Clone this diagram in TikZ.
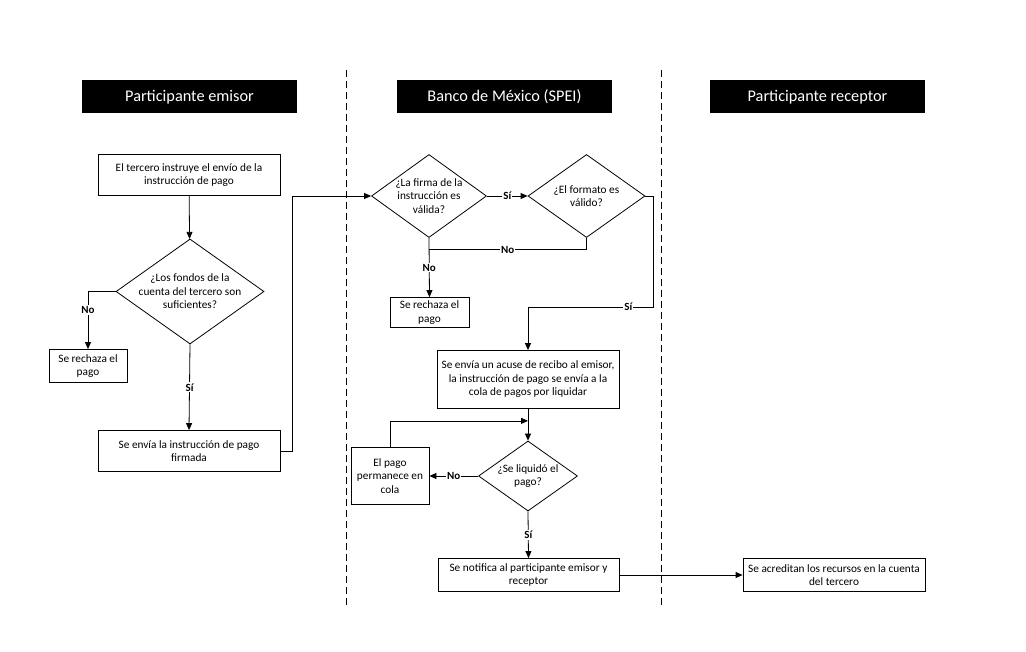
\documentclass[tikz,border=0pt]{standalone}
\usepackage{fontspec}
\setmainfont{Carlito}
\usetikzlibrary{shapes.geometric,arrows.meta}

\begin{document}
\begin{tikzpicture}[x=1pt,y=-1pt,
        txt/.style={font=\fontsize{11.3}{13.5}\selectfont, align=center},
        box/.style={txt, draw, line width=0.8pt, inner sep=0pt},
        decision/.style={txt, draw, diamond, line width=0.8pt, inner sep=0pt},
        lane/.style={fill=black, text=white, minimum width=215pt, minimum height=33pt,
                     text height=12.5pt, text depth=2pt, font=\fontsize{16.3}{18}\selectfont},
        arr/.style={line width=0.8pt, -{Triangle[length=7pt,width=6pt]}},
        link/.style={line width=0.8pt},
        lbl/.style={font=\fontsize{11}{12}\selectfont\bfseries, fill=white, inner sep=1pt},
        sep/.style={line width=0.7pt, dash pattern=on 7pt off 4pt}]
        \useasboundingbox (0,0) rectangle (1026,652);

        % swim lanes
        \node[lane] (hemisor)   at (189.5,96.5) {Participante emisor};
        \node[lane] (hbanxico)  at (504.5,96.5) {Banco de México (SPEI)};
        \node[lane] (hreceptor) at (817.5,96.5) {Participante receptor};

        \draw[sep] (346,70) -- (346,608);
        \draw[sep] (661,70) -- (661,608);

        % participante emisor
        \node[box, minimum width=182pt, minimum height=41pt] (instruye) at (189,175)
            {El tercero instruye el envío de la\\instrucción de pago};
        \node[decision, minimum width=148pt, minimum height=105pt, aspect=1.41, inner sep=-1.5pt] (fondos) at (190,291.5)
            {¿Los fondos de la\\cuenta del tercero son\\suficientes?};
        \node[box, minimum width=78pt, minimum height=33pt] (rechaza) at (88,366)
            {Se rechaza el\\pago};
        \node[box, minimum width=182pt, minimum height=41pt] (envia) at (189,451)
            {Se envía la instrucción de pago\\firmada};

        % banco de mexico
        \node[decision, minimum width=115pt, minimum height=83pt, aspect=1.39, inner sep=-0.5pt] (firma) at (429,196)
            {¿La firma de la\\instrucción es\\válida?};
        \node[decision, minimum width=117pt, minimum height=83pt, aspect=1.41] (formato) at (586.5,196)
            {¿El formato es\\válido?};
        \node[box, minimum width=79pt, minimum height=30pt] (rechazab) at (429.5,312.5)
            {Se rechaza el\\pago};
        \node[box, minimum width=182pt, minimum height=58pt] (acuse) at (528,379.5)
            {Se envía un acuse de recibo al emisor,\\la instrucción de pago se envía a la\\cola de pagos por liquidar};
        \node[decision, minimum width=99pt, minimum height=70pt, aspect=1.41] (liquido) at (528,476)
            {¿Se liquidó el\\pago?};
        \node[box, minimum width=78pt, minimum height=57pt] (cola) at (390,476)
            {El pago\\permanece en\\cola};
        \node[box, minimum width=181pt, minimum height=33pt] (notifica) at (528.5,575)
            {Se notifica al participante emisor y\\receptor};

        % participante receptor
        \node[box, minimum width=182pt, minimum height=33pt] (acredita) at (834,575)
            {Se acreditan los recursos en la cuenta\\del tercero};

        % connectors
        \draw[arr] (instruye) -- (fondos);
        \draw[arr] (fondos.west) -| (rechaza.north) node[lbl, pos=0.66] {No};
        \draw[arr] (fondos.south) -- (envia.north) node[lbl, midway] {Sí};
        \draw[arr] (envia.east) -- ++(12,0) |- (firma.west);

        \draw[arr] (firma.east) -- (formato.west) node[lbl, midway] {Sí};
        \draw[arr] (firma.south) -- (rechazab.north) node[lbl, midway] {No};
        \draw[link] (formato.south) |- ([yshift=-12pt]firma.south) node[lbl, pos=0.75] {No};
        \draw[arr] (formato.east) -- ++(8,0) |- ([yshift=43pt]acuse.north) node[lbl, pos=0.6] {Sí}
            -- (acuse.north);

        \draw[arr] (acuse) -- (liquido);
        \draw[arr] (liquido.west) -- (cola.east) node[lbl, midway] {No};
        \draw[arr] (cola.north) |- ([yshift=-12pt]acuse.south);
        \draw[arr] (liquido.south) -- (notifica.north) node[lbl, midway] {Sí};
        \draw[arr] (notifica) -- (acredita);
\end{tikzpicture}
\end{document}
